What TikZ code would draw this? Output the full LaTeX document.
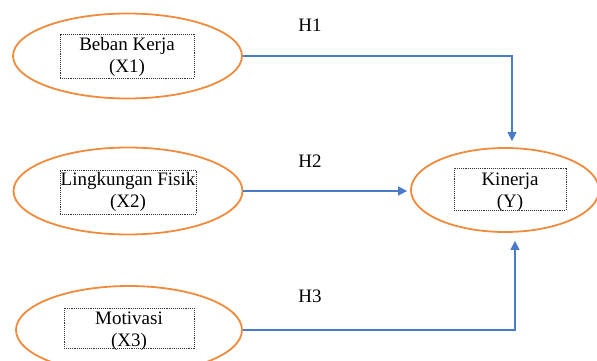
\documentclass[tikz,border=0pt]{standalone}
\usepackage{fontspec}
\setmainfont{Liberation Serif}
\usetikzlibrary{arrows.meta,shapes.geometric}
\definecolor{ellor}{HTML}{F08A3C}
\definecolor{arrblue}{HTML}{4A7BC8}
\tikzset{
  ell/.style={ellipse,draw=ellor,line width=1.8pt,inner sep=0pt},
  dbox/.style={draw=black!80,densely dotted,line width=0.9pt,inner sep=0pt},
  lbl/.style={align=center,inner sep=0pt,font=\fontsize{19}{22}\selectfont},
  hlbl/.style={inner sep=0pt,font=\fontsize{19}{22}\selectfont},
  arr/.style={draw=arrblue,line width=1.3pt,-{Triangle[length=9pt,width=9pt]}},
}
\begin{document}
\begin{tikzpicture}[x=1pt,y=-1pt]
\useasboundingbox (0,0) rectangle (597,361);
% ellipses
\node[ell,minimum width=229pt,minimum height=85pt] (e1) at (127.5,56) {};
\node[ell,minimum width=229pt,minimum height=87pt] (e2) at (128,191) {};
\node[ell,minimum width=226pt,minimum height=88pt] (e3) at (129,330) {};
\node[ell,minimum width=188pt,minimum height=84pt] (k) at (505,190) {};
% dotted boxes
\node[dbox,minimum width=134pt,minimum height=44pt] (b1) at (127,56) {};
\node[dbox,minimum width=136pt,minimum height=44pt] (b2) at (128,192) {};
\node[dbox,minimum width=130pt,minimum height=40pt] (b3) at (129,328) {};
\node[dbox,minimum width=112pt,minimum height=42pt] (bk) at (510,189) {};
% texts
\node[lbl] (t1) at (127,57) {Beban Kerja\\(X1)};
\node[lbl] (t2) at (128,192) {Lingkungan Fisik\\(X2)};
\node[lbl] (t3) at (129,331) {Motivasi\\(X3)};
\node[lbl] (tk) at (510,192) {Kinerja\\(Y)};
% hypothesis labels
\node[hlbl] (h1) at (310,25) {H1};
\node[hlbl] (h2) at (310,161) {H2};
\node[hlbl] (h3) at (310,296) {H3};
% connectors
\coordinate (c1) at (512,58);
\coordinate (c3) at (515,331);
\draw[arr,shorten >=6pt] (e1.east) -- (e1.east -| c1) -- (c1 |- k.north);
\draw[arr,shorten >=3pt] (e2.east) -- (e2.east -| k.west);
\draw[arr,shorten >=8pt] (e3.east) -- (e3.east -| c3) -- (c3 |- k.south);
\end{tikzpicture}
\end{document}
